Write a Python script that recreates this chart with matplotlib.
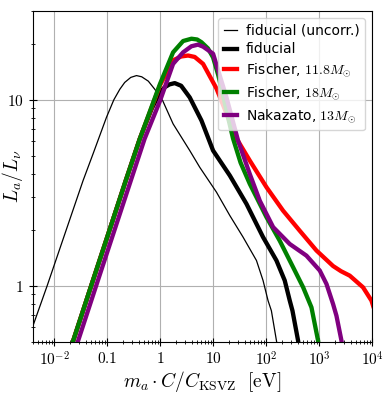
import matplotlib
matplotlib.use("Agg")
import matplotlib.pyplot as plt
from matplotlib.ticker import FixedLocator, LogLocator, NullFormatter

plt.rcParams['mathtext.fontset'] = 'cm'

# axion luminosity ratio vs. mass
m_uncorr = [0.0039, 0.00738, 0.0352, 0.0544, 0.0975, 0.134, 0.174, 0.215, 0.28, 0.359,
            0.45, 0.6, 0.794, 1.12, 1.76, 3.63, 5.61, 11.6, 20.7, 36.8, 65.9, 87.7,
            109, 126, 157, 170]
L_uncorr = [0.599, 1.0, 3.68, 5.13, 8.06, 10.0, 11.4, 12.4, 13.2, 13.5,
            13.3, 12.6, 11.4, 9.9, 7.43, 5.34, 4.34, 3.19, 2.39, 1.83, 1.37, 1.07,
            0.834, 0.736, 0.508, 0.45]

m_fid = [0.021, 0.05, 0.1, 0.225, 0.414, 0.7, 1.0, 1.23, 1.5, 1.89, 2.5, 3.63,
         6.04, 10.0, 20.7, 42.7, 87.7, 157, 225, 280, 315, 402, 430]
L_fid = [0.47, 1.0, 1.82, 3.68, 6.17, 9.0, 11.0, 11.7, 12.1, 12.3, 11.9, 10.3,
         7.74, 5.34, 3.92, 2.76, 1.83, 1.37, 1.07, 0.834, 0.736, 0.508, 0.45]

m_f118 = [0.021, 0.05, 0.1, 0.225, 0.414, 1.0, 1.76, 2.5, 3.38, 4.5, 6.48, 11.6,
          20.7, 27.7, 49.2, 102, 209, 432, 893, 1837, 2600, 3793, 6761, 9743, 10500]
L_f118 = [0.47, 1.0, 1.82, 3.68, 6.17, 12.0, 16.3, 17.1, 17.3, 17.0, 15.6, 11.5,
          7.6, 6.2, 4.72, 3.39, 2.54, 1.98, 1.55, 1.28, 1.2, 1.136, 0.983, 0.834, 0.78]

m_f18 = [0.021, 0.05, 0.1, 0.225, 0.414, 1.0, 1.76, 2.72, 3.91, 5.0, 6.04, 8.0, 10.0, 12.5,
         15.2, 18.5, 23.8, 33.0, 49.2, 102, 181, 324, 501, 719, 958, 1000]
L_f18 = [0.47, 1.0, 1.82, 3.68, 6.17, 12.2, 18.0, 20.7, 21.3, 21.1, 20.4, 18.9, 16.9, 13.6,
         10.8, 8.4, 6.2, 4.6, 3.54, 2.34, 1.75, 1.26, 0.983, 0.767, 0.508, 0.46]

m_nak = [0.026, 0.062, 0.124, 0.28, 0.51, 1.0, 1.76, 2.72, 3.9, 5.21, 6.5, 10.0,
         17.9, 29.6, 49.2, 76.1, 136, 280, 578, 1031, 1380, 1837, 2128, 2648, 2800]
L_nak = [0.47, 1.0, 1.82, 3.68, 6.17, 9.9, 15.6, 18.0, 19.4, 19.8, 19.3, 17.7,
         10.3, 6.04, 4.0, 2.87, 2.07, 1.68, 1.455, 1.21, 1.025, 0.80, 0.692, 0.508, 0.45]

x_ticks = [1e-2, 0.1, 1, 10, 1e2, 1e3, 1e4]
x_ticklabels = [r'$10^{-2}$', r'$0.1$', r'$1$', r'$10$', r'$10^2$', r'$10^3$', r'$10^4$']
y_ticks = [1, 10]
y_ticklabels = [r'$1$', r'$10$']

fig = plt.figure(figsize=(3.9, 3.94), dpi=100)
ax = fig.add_axes([0.0846, 0.132, 0.8694, 0.840])

ax.plot(m_uncorr, L_uncorr, color='black', lw=0.9, label='fiducial (uncorr.)')
ax.plot(m_fid, L_fid, color='black', lw=3.1, label='fiducial')
ax.plot(m_f118, L_f118, color='red', lw=3.1, label=r'Fischer, $11.8M_{\odot}$')
ax.plot(m_f18, L_f18, color='green', lw=3.1, label=r'Fischer, $18M_{\odot}$')
ax.plot(m_nak, L_nak, color='purple', lw=3.1, label=r'Nakazato, $13M_{\odot}$')

ax.set_xscale('log')
ax.set_yscale('log')
ax.set_xlim(0.004, 1e4)
ax.set_ylim(0.5, 30)

ax.xaxis.set_major_locator(FixedLocator(x_ticks))
ax.set_xticklabels(x_ticklabels)
ax.yaxis.set_major_locator(FixedLocator(y_ticks))
ax.set_yticklabels(y_ticklabels)
ax.xaxis.set_minor_locator(LogLocator(base=10, subs=range(2, 10), numticks=20))
ax.yaxis.set_minor_locator(LogLocator(base=10, subs=range(2, 10), numticks=20))
ax.xaxis.set_minor_formatter(NullFormatter())
ax.yaxis.set_minor_formatter(NullFormatter())
ax.tick_params(which='major', direction='inout', length=6, labelsize=11)
ax.tick_params(which='minor', direction='inout', length=3.5)

ax.grid(True, which='major', color='#b0b0b0', lw=0.8)

ax.set_xlabel(r'$m_a \cdot C/C_{\rm KSVZ}\ \ [{\rm eV}]$', fontsize=14, labelpad=0)
ax.set_ylabel(r'$L_a/L_\nu$', fontsize=14)
ax.yaxis.set_label_coords(-0.025, 0.5)

ax.legend(loc='upper right', fontsize=10, handlelength=1.0, handletextpad=0.6,
          labelspacing=0.35, borderpad=0.4, borderaxespad=0.5)

fig.savefig('out.png', dpi=100)
